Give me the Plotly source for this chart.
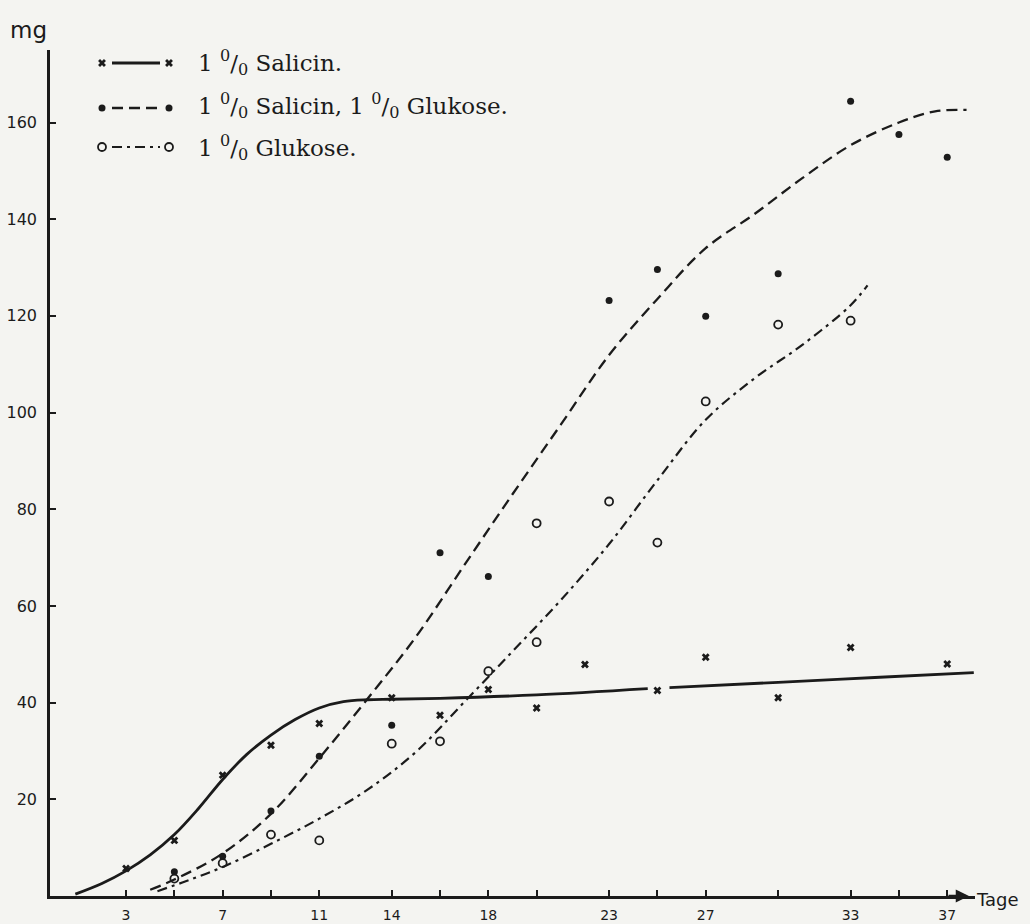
import plotly.graph_objects as go

# ---------------- data ----------------
# measured points
sal_days = [3, 5, 7, 9, 11, 14, 16, 18, 20, 22, 25, 27, 30, 33, 37]
sal_vals = [5.7, 11.5, 25.0, 31.2, 35.7, 41.0, 37.4, 42.7, 38.9, 47.9, 42.5, 49.4, 41.0, 51.4, 48.0]

salglu_days = [5, 7, 9, 11, 14, 16, 18, 23, 25, 27, 30, 33, 35, 37]
salglu_vals = [5.0, 8.2, 17.6, 28.9, 35.3, 71.0, 66.1, 123.2, 129.6, 119.9, 128.7, 164.4, 157.5, 152.8]

glu_days = [5, 7, 9, 11, 14, 16, 18, 20, 20, 23, 25, 27, 30, 33]
glu_vals = [3.6, 6.8, 12.7, 11.5, 31.5, 32.0, 46.5, 52.5, 77.1, 81.6, 73.1, 102.3, 118.2, 119.0]

# hand-drawn fitted curves
sal_curve_days = [0.9, 2, 3, 4, 5, 6, 7, 8, 9, 10, 11, 12, 13, 14, 16, 20, 24.6, None, 25.5, 30, 34, 38.1]
sal_curve_vals = [0.4, 2.6, 5.2, 8.5, 12.7, 18.1, 24.1, 29.3, 33.3, 36.5, 38.9, 40.2, 40.6, 40.7, 40.9, 41.6, 42.9, None, 43.1, 44.2, 45.2, 46.2]

salglu_curve_days = [4, 5, 7, 9, 11, 13, 15, 17, 19, 21, 23, 25, 27, 29, 31, 33, 35, 36.5, 37.8]
salglu_curve_vals = [1.3, 3.4, 8.8, 17.0, 28.5, 40.8, 53.6, 68.4, 83.1, 97.5, 111.9, 123.5, 134.0, 141.0, 148.5, 155.3, 160.0, 162.3, 162.6]

glu_curve_days = [4.3, 5.5, 7, 9, 11, 13, 15, 17, 19, 21, 23, 25, 27, 29, 31, 33, 33.7]
glu_curve_vals = [1.0, 3.1, 6.0, 10.8, 16.0, 22.0, 29.8, 40.1, 50.6, 61.2, 72.8, 86.0, 98.5, 107.0, 114.0, 122.2, 126.3]

# axis ticks
x_label_vals = [3, 7, 11, 14, 18, 23, 27, 33, 37]
x_label_text = ["3", "7", "11", "14", "18", "23", "27", "33", "37"]
x_minor_vals = [5, 9, 16, 20, 25, 30, 35]
y_tickvals = [20, 40, 60, 80, 100, 120, 140, 160]
y_ticktext = ["20", "40", "60", "80", "100", "120", "140", "160"]

series_names = ["1 <sup>0</sup>/<sub>0</sub> Salicin.",
                "1 <sup>0</sup>/<sub>0</sub> Salicin, 1 <sup>0</sup>/<sub>0</sub> Glukose.",
                "1 <sup>0</sup>/<sub>0</sub> Glukose."]

# ---------------- styling ----------------
INK = "#1b1b1b"
BG = "#f4f4f1"
HAND = "DejaVu Sans"
SERIF = "DejaVu Serif"

DASH = "11px,6px"
DASHDOT = "10px,5px,3px,5px"

W, H = 1030, 924
ML, MR, MT, MB = 50, 55, 50, 28
PW, PH = W - ML - MR, H - MT - MB


def paper_x(px):
    return (px - ML) / PW


def paper_y(py):
    return (H - MB - py) / PH


styles = [
    dict(line=dict(color=INK, width=2.8), marker=dict(symbol="x", size=7, color=INK, line=dict(width=0))),
    dict(line=dict(color=INK, width=2.3, dash=DASH), marker=dict(symbol="circle", size=7, color=INK)),
    dict(line=dict(color=INK, width=2.2, dash=DASHDOT), marker=dict(symbol="circle-open", size=8, color=INK, line=dict(width=1.8, color=INK))),
]

fig = go.Figure()

curves = [(sal_curve_days, sal_curve_vals), (salglu_curve_days, salglu_curve_vals), (glu_curve_days, glu_curve_vals)]
points = [(sal_days, sal_vals), (salglu_days, salglu_vals), (glu_days, glu_vals)]

for (cx, cy), (px_, py_), st, nm in zip(curves, points, styles, series_names):
    fig.add_trace(go.Scatter(x=cx, y=cy, mode="lines", line=dict(shape="spline", smoothing=1.0, **st["line"]),
                             connectgaps=False, showlegend=False, hoverinfo="skip", name=nm))
    fig.add_trace(go.Scatter(x=px_, y=py_, mode="markers", marker=st["marker"], showlegend=False, name=nm))

# ---------------- hand-drawn style legend (pixel overlay axes) ----------------
leg_rows_y = [63, 108, 147]
leg_text_y = [62, 106, 147]
for st, ry, ty, nm in zip(styles, leg_rows_y, leg_text_y, series_names):
    fig.add_trace(go.Scatter(x=[112, 160], y=[ry, ry], mode="lines", line=st["line"],
                             xaxis="x2", yaxis="y2", showlegend=False, hoverinfo="skip"))
    fig.add_trace(go.Scatter(x=[102, 169], y=[ry, ry], mode="markers", marker=st["marker"],
                             xaxis="x2", yaxis="y2", showlegend=False, hoverinfo="skip"))
    fig.add_annotation(x=paper_x(196), y=paper_y(ty), xref="paper", yref="paper", text=nm, showarrow=False,
                       xanchor="left", yanchor="middle", font=dict(family=SERIF, size=23, color=INK))

# axis end arrow, axis titles
fig.add_annotation(x=37.9, y=0, xref="x", yref="y", ax=-22, ay=0, text="", showarrow=True,
                   arrowhead=2, arrowsize=1.1, arrowwidth=2.4, arrowcolor=INK)
fig.add_annotation(x=paper_x(974), y=paper_y(899), xref="paper", yref="paper", text="Tage", showarrow=False,
                   xanchor="left", yanchor="middle", font=dict(family=HAND, size=18, color=INK))
fig.add_annotation(x=paper_x(8), y=paper_y(30), xref="paper", yref="paper", text="mg", showarrow=False,
                   xanchor="left", yanchor="middle", font=dict(family=HAND, size=23, color=INK))

fig.update_layout(
    width=W, height=H,
    margin=dict(l=ML, r=MR, t=MT, b=MB, autoexpand=False),
    paper_bgcolor=BG, plot_bgcolor=BG,
    showlegend=False,
    xaxis=dict(range=[-0.149, 38.15], showgrid=False, zeroline=False, automargin=False,
               showline=True, linecolor=INK, linewidth=2.6,
               tickvals=x_label_vals, ticktext=x_label_text, ticks="inside", ticklen=6, tickwidth=2,
               tickcolor=INK, ticklabelstandoff=4,
               minor=dict(tickvals=x_minor_vals, ticks="inside", ticklen=6, tickwidth=2,
                          tickcolor=INK, showgrid=False),
               tickfont=dict(family=HAND, size=14, color=INK)),
    yaxis=dict(range=[0, 175], showgrid=False, zeroline=False, automargin=False,
               showline=True, linecolor=INK, linewidth=2.6,
               tickvals=y_tickvals, ticktext=y_ticktext, ticks="inside", ticklen=6, tickwidth=2,
               tickcolor=INK, ticklabelstandoff=7,
               tickfont=dict(family=HAND, size=16, color=INK)),
    xaxis2=dict(overlaying="x", range=[ML, W - MR], visible=False, fixedrange=True),
    yaxis2=dict(overlaying="y", range=[H - MB, MT], visible=False, fixedrange=True),
)

fig.write_html("out.html", config={"displayModeBar": False},
               post_script="document.body.style.margin='0px';")
